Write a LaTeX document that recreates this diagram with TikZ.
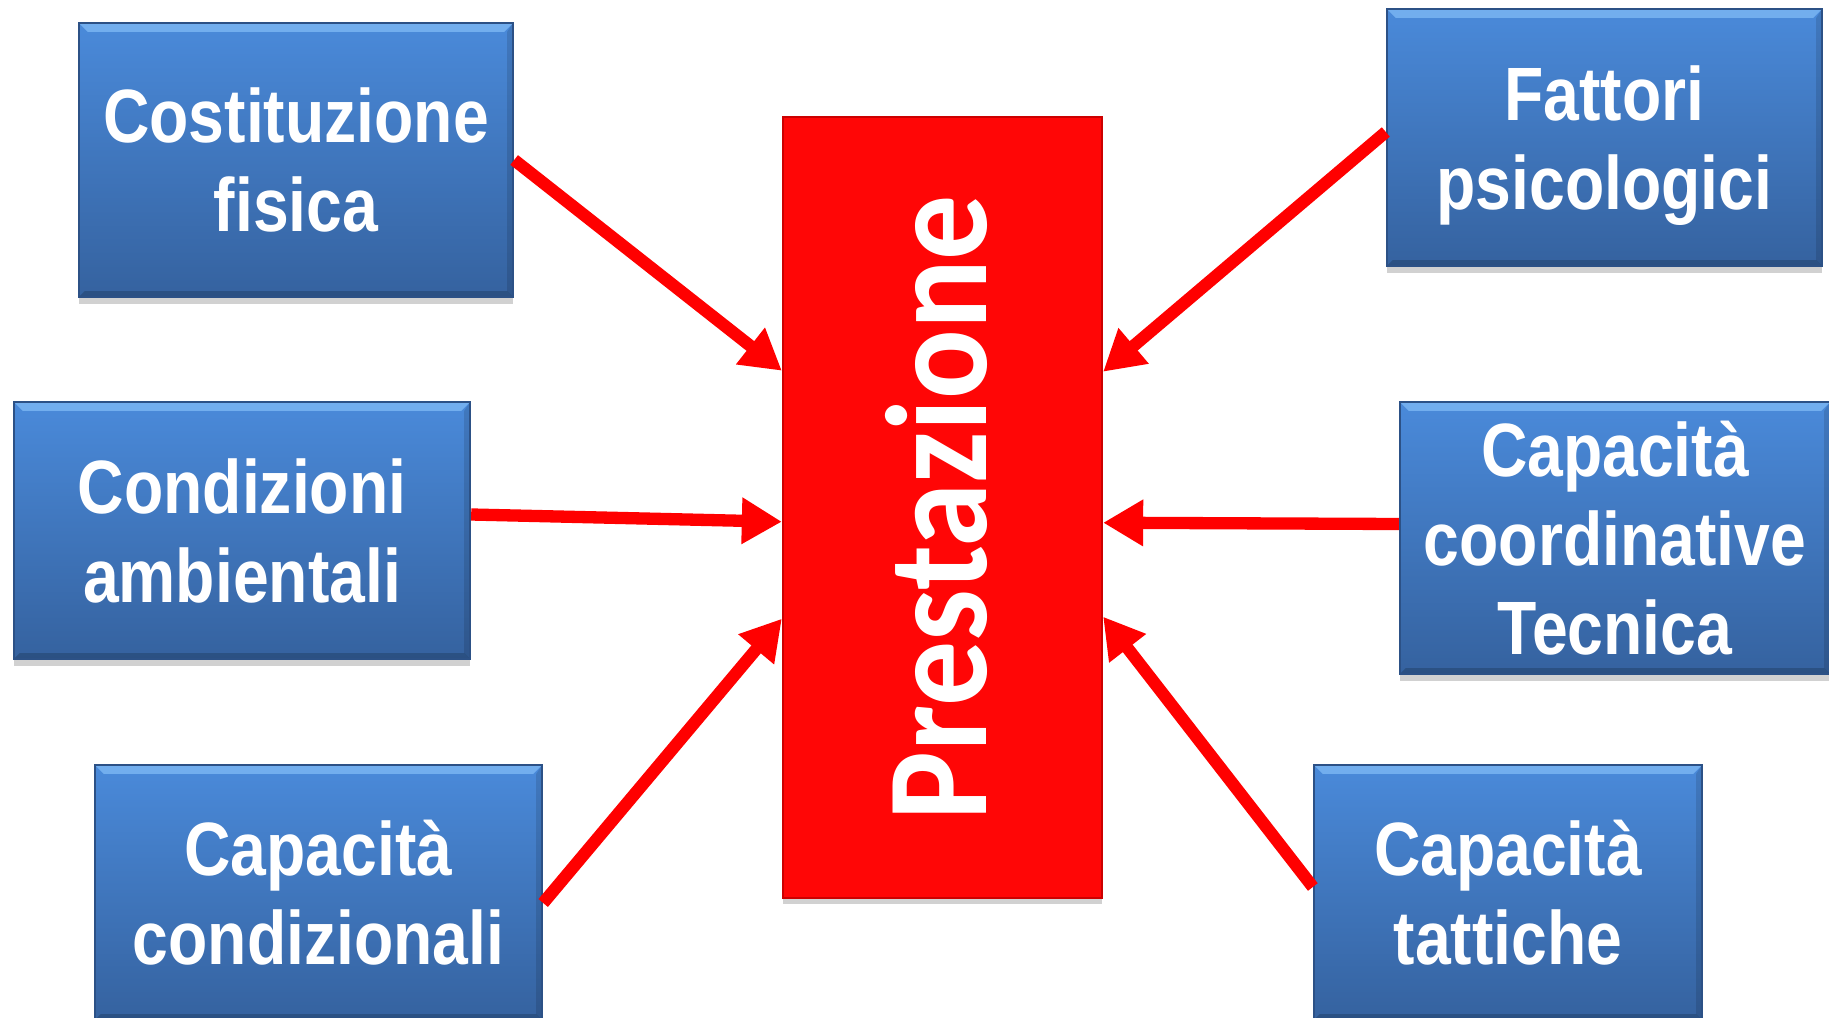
\documentclass[tikz,border=0pt]{standalone}
\usepackage{fontspec}
\usetikzlibrary{arrows.meta,calc,shadows}
\newfontfamily\boxfont{Liberation Sans}[FakeStretch=0.85]
\newfontfamily\presfont{Carlito}[FakeStretch=0.90]
\definecolor{boxtop}{HTML}{4A8ADA}
\definecolor{boxbot}{HTML}{35629F}
\definecolor{boxedge}{HTML}{2C5186}
\definecolor{bevel}{HTML}{7AB5F2}
\definecolor{presred}{HTML}{FF0606}
\definecolor{arrowred}{HTML}{FF0000}
\tikzset{
  bluebox/.style={rectangle, inner sep=0pt, top color=boxtop, bottom color=boxbot,
    draw=boxedge, line width=0.6pt, text=white, align=center, text depth=0pt,
    font=\boxfont\bfseries\fontsize{21.5pt}{25.3pt}\selectfont,
    drop shadow={shadow xshift=0pt, shadow yshift=-0.7mm, opacity=0.18, fill=black},
    path picture={
      \fill[bevel, opacity=0.85] (path picture bounding box.north west) -- (path picture bounding box.north east)
        -- ([xshift=-0.9mm,yshift=-0.9mm]path picture bounding box.north east)
        -- ([xshift=0.9mm,yshift=-0.9mm]path picture bounding box.north west) -- cycle;
      \fill[black, opacity=0.12] (path picture bounding box.north east) -- (path picture bounding box.south east)
        -- ([xshift=-0.6mm,yshift=0.6mm]path picture bounding box.south east)
        -- ([xshift=-0.6mm,yshift=-0.9mm]path picture bounding box.north east) -- cycle;
      \fill[black, opacity=0.18] (path picture bounding box.south west) -- (path picture bounding box.south east)
        -- ([xshift=-0.6mm,yshift=0.6mm]path picture bounding box.south east)
        -- ([xshift=0.6mm,yshift=0.6mm]path picture bounding box.south west) -- cycle;
    }},
  redbox/.style={rectangle, inner sep=0pt, fill=presred, draw=red!80!black, line width=0.6pt,
    text=white, font=\presfont\bfseries\fontsize{41pt}{45pt}\selectfont,
    drop shadow={shadow xshift=0pt, shadow yshift=-0.6mm, opacity=0.18, fill=black}},
  arr/.style={draw=arrowred, line width=3.5pt, -{Triangle[length=0.40cm,width=0.44cm]}}
}
\begin{document}
\begin{tikzpicture}[x=0.01cm,y=-0.01cm]
\useasboundingbox (0,0) rectangle (1829,1018);
\fill[white] (0,0) rectangle (1829,1018);

\node[redbox, minimum width=3.19cm, minimum height=7.81cm] (red) at (942.5,507.5) {\rotatebox{90}{Prestazione}\hspace*{0.12cm}};

\node[bluebox, minimum width=4.34cm, minimum height=2.74cm] (b1) at (296,160) {Costituzione\\fisica};
\node[bluebox, minimum width=4.56cm, minimum height=2.57cm] (b2) at (242,530.5) {Condizioni\\ambientali};
\node[bluebox, minimum width=4.47cm, minimum height=2.55cm] (b3) at (318.5,892.5) {Capacità\\condizionali};
\node[bluebox, minimum width=4.35cm, minimum height=2.57cm] (b4) at (1604.5,137.5) {Fattori\\psicologici};
\node[bluebox, minimum width=4.30cm, minimum height=2.72cm] (b5) at (1615,538) {Capacità\\coordinative\\Tecnica};
\node[bluebox, minimum width=3.88cm, minimum height=2.55cm] (b6) at (1508,892.5) {Capacità\\tattiche};

\coordinate (s1) at (b1.east);
\coordinate (s2) at ($(b2.east)+(0,-16)$);
\coordinate (s3) at ($(b3.east)+(0,10.5)$);
\coordinate (s4) at ($(b4.west)+(0,-5.5)$);
\coordinate (s5) at ($(b5.west)+(0,-14)$);
\coordinate (s6) at ($(b6.west)+(0,-5.5)$);

\coordinate (t1) at ($(red.north west)+(0,255)$);
\coordinate (t2) at ($(red.north west)+(0,406)$);
\coordinate (t3) at ($(red.north west)+(0,503)$);
\coordinate (t4) at ($(red.north east)+(0,256)$);
\coordinate (t5) at ($(red.north east)+(0,407)$);
\coordinate (t6) at ($(red.north east)+(0,501)$);

\draw[arr] (s1) -- (t1);
\draw[arr] (s2) -- (t2);
\draw[arr] (s3) -- (t3);
\draw[arr] (s4) -- (t4);
\draw[arr] (s5) -- (t5);
\draw[arr] (s6) -- (t6);
\end{tikzpicture}
\end{document}
